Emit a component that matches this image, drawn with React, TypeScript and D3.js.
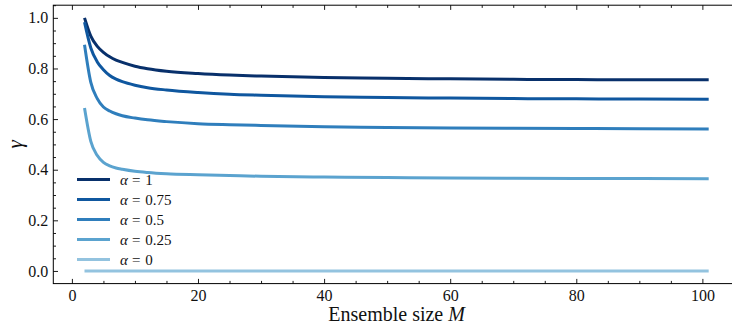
import { useEffect, useRef } from 'react';
import * as d3 from 'd3';

// ensemble sizes sampled from the curves
const M_VALUES = [2, 3, 4, 5, 6, 7, 8, 10, 12, 15, 20, 25, 30, 40, 50, 60, 70, 80, 90, 101];

const GAMMA_A1 = [1.0, 0.928, 0.888, 0.864, 0.846, 0.833, 0.824, 0.809, 0.799, 0.789, 0.780, 0.774, 0.770, 0.764, 0.761, 0.759, 0.757, 0.756, 0.755, 0.755];
const GAMMA_A075 = [0.983, 0.881, 0.827, 0.795, 0.772, 0.758, 0.748, 0.734, 0.724, 0.715, 0.705, 0.698, 0.694, 0.688, 0.685, 0.683, 0.681, 0.680, 0.679, 0.678];
const GAMMA_A05 = [0.894, 0.745, 0.682, 0.648, 0.632, 0.621, 0.613, 0.604, 0.597, 0.590, 0.582, 0.578, 0.575, 0.570, 0.567, 0.565, 0.564, 0.563, 0.562, 0.561];
const GAMMA_A025 = [0.644, 0.512, 0.457, 0.429, 0.415, 0.407, 0.402, 0.394, 0.389, 0.384, 0.380, 0.377, 0.374, 0.371, 0.369, 0.367, 0.366, 0.365, 0.365, 0.364];
const GAMMA_A0 = [0, 0, 0, 0, 0, 0, 0, 0, 0, 0, 0, 0, 0, 0, 0, 0, 0, 0, 0, 0];

const SERIES_LABELS = ['1', '0.75', '0.5', '0.25', '0'];
const SERIES_VALUES = [GAMMA_A1, GAMMA_A075, GAMMA_A05, GAMMA_A025, GAMMA_A0];
const SERIES_SHADES = [1.0, 0.85, 0.7, 0.55, 0.4];

const X_TICKS = [0, 20, 40, 60, 80, 100];
const Y_TICKS = [0, 0.2, 0.4, 0.6, 0.8, 1.0];

const FONT = '"Liberation Serif", "DejaVu Serif", serif';

function Chart() {
  const svgRef = useRef<SVGSVGElement>(null);

  useEffect(() => {
    if (!svgRef.current) return;
    const width = 732;
    const height = 326;
    const svg = d3.select(svgRef.current);
    svg.selectAll('*').remove();
    svg.attr('width', width).attr('height', height);

    const left = 53.3, right = 739.9, top = 5.2, bottom = 283.6;
    const x = d3.scaleLinear().domain([-2.95, 105.95]).range([left, right]);
    const y = d3.scaleLinear().domain([-0.05, 1.05]).range([bottom, top]);

    const xMinor = d3.range(0, 106, 5).filter(v => v % 20 !== 0);
    const yMinor = d3.range(0, 1.051, 0.05).filter(v => Math.abs(v / 0.2 - Math.round(v / 0.2)) > 1e-6);

    const styleAxis = (s: any) => {
      s.select('.domain').remove();
      s.selectAll('line').attr('stroke', '#000').attr('stroke-width', 0.9);
      s.selectAll('text').attr('fill', '#111').attr('font-family', FONT).attr('font-size', 16);
    };

    // major + minor ticks, all pointing inward
    svg.append('g').attr('transform', `translate(0,${bottom})`)
      .call(d3.axisBottom(x).tickValues(X_TICKS).tickSizeInner(-4.7).tickSizeOuter(0).tickPadding(6).tickFormat(d3.format('d')))
      .call(styleAxis);
    svg.append('g').attr('transform', `translate(0,${bottom})`)
      .call(d3.axisBottom(x).tickValues(xMinor).tickSizeInner(-2.7).tickSizeOuter(0).tickFormat(() => ''))
      .call(styleAxis);
    svg.append('g').attr('transform', `translate(0,${top})`)
      .call(d3.axisTop(x).tickValues(X_TICKS).tickSizeInner(-4.7).tickSizeOuter(0).tickFormat(() => ''))
      .call(styleAxis);
    svg.append('g').attr('transform', `translate(0,${top})`)
      .call(d3.axisTop(x).tickValues(xMinor).tickSizeInner(-2.7).tickSizeOuter(0).tickFormat(() => ''))
      .call(styleAxis);
    svg.append('g').attr('transform', `translate(${left},0)`)
      .call(d3.axisLeft(y).tickValues(Y_TICKS).tickSizeInner(-4.7).tickSizeOuter(0).tickPadding(5).tickFormat(d3.format('.1f')))
      .call(styleAxis);
    svg.append('g').attr('transform', `translate(${left},0)`)
      .call(d3.axisLeft(y).tickValues(yMinor).tickSizeInner(-2.7).tickSizeOuter(0).tickFormat(() => ''))
      .call(styleAxis);

    // spines
    svg.append('rect')
      .attr('x', left).attr('y', top).attr('width', right - left).attr('height', bottom - top)
      .attr('fill', 'none').attr('stroke', '#000').attr('stroke-width', 1);

    // curves
    const line = d3.line<number>()
      .x((_, i) => x(M_VALUES[i]))
      .y(d => y(d))
      .curve(d3.curveMonotoneX);

    SERIES_VALUES.forEach((vals, k) => {
      svg.append('path')
        .datum(vals)
        .attr('fill', 'none')
        .attr('stroke', d3.interpolateBlues(SERIES_SHADES[k]))
        .attr('stroke-width', 3)
        .attr('d', line);
    });

    // legend
    const lg = svg.append('g').attr('transform', 'translate(77,179.5)');
    SERIES_LABELS.forEach((lab, k) => {
      const row = lg.append('g').attr('transform', `translate(0,${k * 20})`);
      row.append('line').attr('x1', 0).attr('x2', 33).attr('y1', 0).attr('y2', 0)
        .attr('stroke', d3.interpolateBlues(SERIES_SHADES[k])).attr('stroke-width', 3);
      const t = row.append('text').attr('x', 43).attr('y', 5)
        .attr('font-family', FONT).attr('font-size', 15).attr('fill', '#111');
      t.append('tspan').attr('font-style', 'italic').text('α');
      t.append('tspan').attr('dx', 4).text('=');
      t.append('tspan').attr('dx', 5).text(lab);
    });

    // axis labels
    const xl = svg.append('text')
      .attr('x', (left + right) / 2).attr('y', 321)
      .attr('text-anchor', 'middle').attr('font-family', FONT).attr('font-size', 20).attr('fill', '#111');
    xl.append('tspan').text('Ensemble size ');
    xl.append('tspan').attr('font-style', 'italic').text('M');

    svg.append('text')
      .attr('transform', `translate(22,${(top + bottom) / 2}) rotate(-90)`)
      .attr('text-anchor', 'middle').attr('font-family', FONT).attr('font-size', 21)
      .attr('font-style', 'italic').attr('fill', '#111')
      .text('γ');
  }, []);

  return <svg ref={svgRef} style={{ position: 'absolute', left: 0, top: 0, display: 'block' }} />;
}

export default function App() {
  return <Chart />;
}
